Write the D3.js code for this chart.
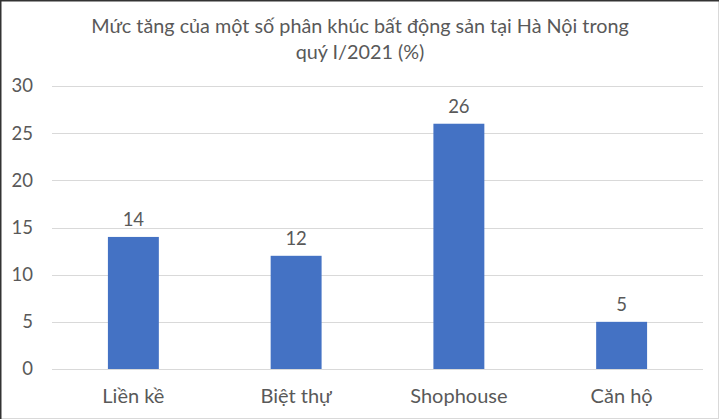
<!DOCTYPE html>
<html>
<head>
<meta charset="utf-8">
<script src="https://cdn.jsdelivr.net/npm/d3@7"></script>
<style>
  body { margin: 0; background: #fff; }
  text { font-family: Lato, "Open Sans", sans-serif; fill: #595959; }
</style>
</head>
<body>
<script>
// data
var categories = ["Liền kề", "Biệt thự", "Shophouse", "Căn hộ"];
var values = [14, 12, 26, 5];
var yTicks = [0, 5, 10, 15, 20, 25, 30];
var titleLines = ["Mức tăng của một số phân khúc bất động sản tại Hà Nội trong", "quý I/2021 (%)"];

var W = 720, H = 420;
var margin = { top: 86, right: 17, bottom: 51, left: 52 };
var width = W - margin.left - margin.right;
var height = H - margin.top - margin.bottom;

var svg = d3.select("body").append("svg")
  .attr("width", W)
  .attr("height", H);

// outer frame (dark top/left, light bottom/right like the screenshot)
svg.append("rect")
  .attr("x", 0.5).attr("y", 0.5)
  .attr("width", W - 2).attr("height", H - 2)
  .attr("fill", "#fff").attr("stroke", "#d9d9d9");
svg.append("path")
  .attr("d", "M0.75," + (H - 1) + "V0.75H" + (W - 1))
  .attr("fill", "none").attr("stroke", "#333").attr("stroke-width", 1.5);

svg.selectAll(".title")
  .data(titleLines)
  .enter().append("text")
  .attr("class", "title")
  .attr("x", 360)
  .attr("y", function(d, i) { return 33 + i * 26; })
  .attr("text-anchor", "middle")
  .style("font-size", "19.8px")
  .text(function(d) { return d; });

var g = svg.append("g")
  .attr("transform", "translate(" + margin.left + "," + margin.top + ")");

var x = d3.scaleBand()
  .domain(categories)
  .range([0, width])
  .padding(0);

var y = d3.scaleLinear()
  .domain([0, 30])
  .range([height, 0]);

// gridlines
g.selectAll(".grid")
  .data(yTicks)
  .enter().append("line")
  .attr("x1", 0).attr("x2", width)
  .attr("y1", function(d) { return Math.round(y(d)) + 0.5; })
  .attr("y2", function(d) { return Math.round(y(d)) + 0.5; })
  .attr("stroke", "#d9d9d9").attr("stroke-width", 1);

// y axis labels (no line)
var yAxis = g.append("g")
  .call(d3.axisLeft(y).tickValues(yTicks).tickSize(0).tickPadding(19));
yAxis.select(".domain").remove();
yAxis.selectAll("text").style("font-size", "18.5px").attr("fill", "#595959");

// x axis labels
var xAxis = g.append("g")
  .attr("transform", "translate(0," + height + ")")
  .call(d3.axisBottom(x).tickSize(0).tickPadding(20));
xAxis.select(".domain").remove();
xAxis.selectAll("text").style("font-size", "20px").attr("fill", "#595959");

var barW = x.bandwidth() * 0.313;

var data = categories.map(function(c, i) { return { cat: c, val: values[i] }; });

g.selectAll(".bar")
  .data(data)
  .enter().append("rect")
  .attr("class", "bar")
  .attr("x", function(d) { return x(d.cat) + (x.bandwidth() - barW) / 2; })
  .attr("y", function(d) { return y(d.val); })
  .attr("width", barW)
  .attr("height", function(d) { return height - y(d.val); })
  .attr("fill", "#4472c4");

g.selectAll(".lbl")
  .data(data)
  .enter().append("text")
  .attr("class", "lbl")
  .attr("x", function(d) { return x(d.cat) + x.bandwidth() / 2; })
  .attr("y", function(d) { return y(d.val) - 11; })
  .attr("text-anchor", "middle")
  .style("font-size", "18.5px")
  .text(function(d) { return d.val; });
</script>
</body>
</html>
